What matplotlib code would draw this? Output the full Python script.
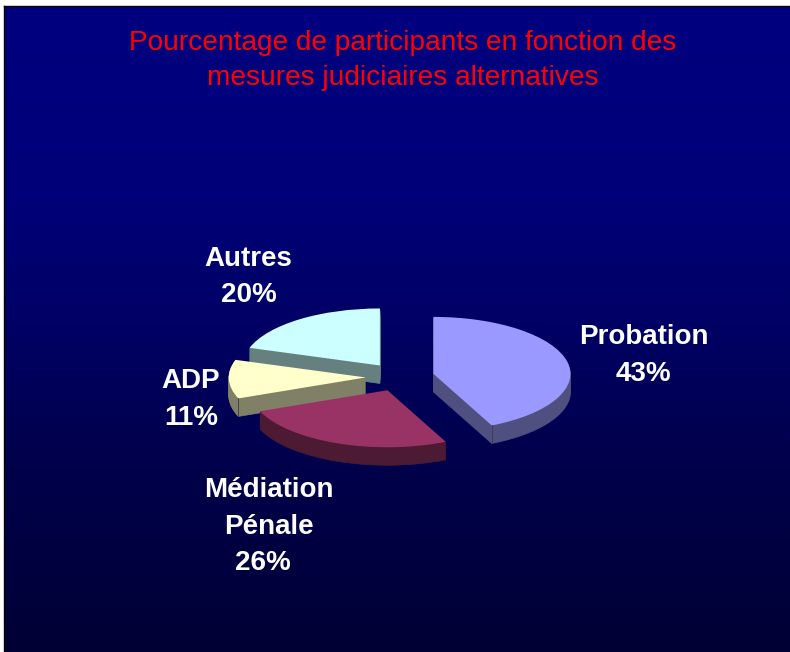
'''
Pourcentage de participants: exploded pie with a fake 3D depth
'''
import numpy as np
import matplotlib.pyplot as plt
from matplotlib.colors import LinearSegmentedColormap

plt.rcParams["font.family"] = ["Liberation Sans", "DejaVu Sans"]

TITLE_LINES = ["Pourcentage de participants en fonction des",
               "mesures judiciaires alternatives"]
LABELS = [["Probation"], ["Médiation", "Pénale"], ["ADP"], ["Autres"]]
VALUES = [43, 26, 11, 20]
TOP_COLORS = ["#9999FF", "#993366", "#FFFFCC", "#CCFFFF"]
SIDE_COLORS = ["#4F4F80", "#4D1A33", "#808066", "#668080"]
DRAW_ORDER = [3, 2, 1, 0]  # back to front

W, H = 790, 652
CX, CY = 400, 377  # pie centre, px
RX, RY = 137, 57  # ellipse radii, px
DEPTH = 18  # px
EXPLODE = 0.25

fig = plt.figure(figsize=(W / 100, H / 100), dpi=100, facecolor="white")

# background gradient, flat navy at the top then fading down
bg = fig.add_axes([4 / W, 0, 1 - 4 / W, 1 - 6 / H])
cmap = LinearSegmentedColormap.from_list(
    "bg", [(0, "#000080"), (0.3, "#000078"), (0.5, "#000064"),
           (0.7, "#00004C"), (1, "#000035")])
bg.imshow(np.linspace(0, 1, 256).reshape(-1, 1), cmap=cmap, aspect="auto")
bg.set_xticks([])
bg.set_yticks([])
bg.spines["right"].set_visible(False)
bg.spines["bottom"].set_visible(False)
bg.spines["left"].set_linewidth(1.0)
bg.spines["top"].set_linewidth(1.0)

# pie, one data unit = RX px across and RY px down
ax = fig.add_axes([0, 0, 1, 1])
ax.patch.set_visible(False)

for d in np.arange(DEPTH, -1, -1):
    colors = TOP_COLORS if d == 0 else SIDE_COLORS
    wedges, _ = ax.pie(VALUES, explode=[EXPLODE] * len(VALUES), colors=colors,
                       startangle=90, counterclock=False,
                       center=(0, -d / RY))
    for i, w in enumerate(wedges):
        w.set_zorder(10 + DRAW_ORDER[i] * 100 + (DEPTH - d))
        # same colour edge so the stacked layers leave no seams
        w.set_edgecolor(colors[i])
        w.set_linewidth(0.5 if d else 0.0)

# thin vertical edge on the visible front corners
for i, angle in [(0, wedges[0].theta1), (2, wedges[2].theta2)]:
    x0, y0 = wedges[i].center
    x = x0 + wedges[i].r * np.cos(np.radians(angle))
    y = y0 + wedges[i].r * np.sin(np.radians(angle))
    ax.plot([x, x], [y, y - DEPTH / RY], color="#3A3A50", lw=0.6,
            zorder=wedges[i].get_zorder() + 1)

ax.set_aspect("auto")
ax.set_xlim(-CX / RX, (W - CX) / RX)
ax.set_ylim(-(H - CY) / RY, CY / RY)
ax.axis("off")


def px_text(x, y, s, **kw):
    fig.text(x / W, 1 - y / H, s, ha="center", va="baseline", **kw)


for line, y in zip(TITLE_LINES, [50, 85]):
    px_text(403, y, line, color="#FF0000", fontsize=20.2)

# one (x, baseline) per text line, the lines are not quite aligned in the original
label_pos = [[(643.5, 344), (643.5, 381)],
             [(268.5, 497), (268.5, 534), (262.5, 570)],
             [(190.5, 388), (191.5, 425)],
             [(248.5, 266), (249, 302)]]
for lab, val, pos in zip(LABELS, VALUES, label_pos):
    for line, (x, y) in zip(lab + [f"{val}%"], pos):
        px_text(x, y, line, color="white", fontsize=20, fontweight="bold")

fig.savefig("out.png", dpi=100, facecolor=fig.get_facecolor())
